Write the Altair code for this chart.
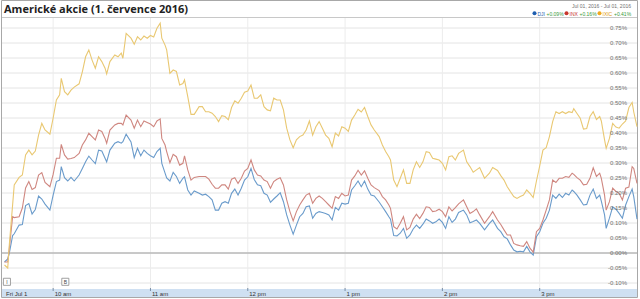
import altair as alt
import pandas as pd

# ---------------- data ----------------
title_text = "Americké akcie (1. července 2016)"
date_range_text = "Jul 01, 2016  -  Jul 01, 2016"

series_names = ["DJI", "INX", "IXIC"]
series_changes = ["+0.09%", "+0.16%", "+0.41%"]

# minutes after 9:30 am
minutes = [0,2,3,5,6,9,11,13,15,17,19,21,23,25,28,30,32,34,35,37,39,41,43,46,48,50,52,54,56,58,
           60,62,63,65,68,70,72,73,75,78,80,82,84,86,88,90,92,94,96,97,99,100,102,104,106,108,110,111,113,115,
           117,120,122,124,126,128,130,132,134,136,138,140,142,144,146,148,150,152,154,156,158,160,162,164,166,168,170,172,174,176,
           178,180,182,184,186,188,190,192,194,196,198,200,202,204,206,208,210,212,214,216,218,220,222,224,226,228,231,233,235,237,
           238,240,242,244,246,248,250,252,254,256,258,260,262,264,266,268,270,272,274,276,278,280,283,285,287,289,291,293,296,299,
           301,304,306,308,310,312,314,316,318,320,322,324,326,328,330,332,334,336,338,340,342,344,346,348,350,351,353,355,357,359,
           361,363,365,367,368,370,371,373,375,377,379,381,383,385,387,388,390]

dji = [-0.03,-0.02,0.0,0.058,0.064,0.093,0.095,0.158,0.165,0.13,
       0.145,0.19,0.18,0.163,0.143,0.193,0.238,0.243,0.288,0.251,
       0.24,0.252,0.24,0.26,0.282,0.304,0.323,0.31,0.298,0.343,
       0.34,0.316,0.304,0.343,0.366,0.371,0.366,0.371,0.396,0.37,
       0.318,0.349,0.324,0.343,0.332,0.324,0.318,0.338,0.349,0.299,
       0.266,0.25,0.24,0.269,0.255,0.232,0.249,0.254,0.21,0.193,
       0.207,0.199,0.193,0.196,0.188,0.177,0.143,0.143,0.166,0.171,
       0.166,0.199,0.213,0.193,0.216,0.243,0.254,0.282,0.245,0.227,
       0.224,0.199,0.193,0.169,0.18,0.19,0.201,0.171,0.127,0.093,
       0.063,0.093,0.121,0.132,0.154,0.157,0.116,0.132,0.138,0.135,
       0.132,0.127,0.11,0.152,0.143,0.166,0.163,0.166,0.21,0.224,
       0.24,0.221,0.24,0.213,0.193,0.19,0.17,0.154,0.138,0.121,
       0.113,0.058,0.057,0.066,0.082,0.049,0.06,0.08,0.093,0.082,
       0.096,0.113,0.107,0.099,0.104,0.113,0.102,0.082,0.121,0.102,
       0.113,0.135,0.143,0.127,0.101,0.105,0.11,0.099,0.077,0.099,
       0.11,0.082,0.071,0.054,0.047,0.027,0.01,0.004,0.006,0.004,
       0.022,0.004,-0.007,0.054,0.071,0.099,0.116,0.143,0.193,0.182,
       0.196,0.185,0.199,0.193,0.21,0.205,0.193,0.177,0.16,0.162,
       0.193,0.213,0.182,0.193,0.173,0.127,0.082,0.116,0.154,0.146,
       0.132,0.116,0.16,0.188,0.213,0.188,0.113]

inx = [-0.03,-0.03,0.017,0.121,0.118,0.121,0.15,0.217,0.238,0.212,
       0.218,0.26,0.268,0.235,0.221,0.262,0.316,0.316,0.362,0.327,
       0.313,0.315,0.318,0.332,0.36,0.377,0.399,0.388,0.377,0.41,
       0.405,0.382,0.366,0.41,0.427,0.432,0.432,0.427,0.46,0.443,
       0.416,0.443,0.421,0.44,0.435,0.43,0.421,0.44,0.447,0.382,
       0.36,0.338,0.301,0.329,0.321,0.293,0.299,0.324,0.277,0.243,
       0.252,0.255,0.255,0.255,0.246,0.229,0.216,0.216,0.227,0.227,
       0.213,0.246,0.251,0.232,0.249,0.273,0.282,0.31,0.277,0.26,
       0.257,0.243,0.238,0.216,0.238,0.246,0.251,0.227,0.177,0.138,
       0.107,0.138,0.16,0.177,0.193,0.199,0.166,0.182,0.19,0.182,
       0.171,0.16,0.149,0.188,0.182,0.199,0.19,0.193,0.243,0.257,
       0.276,0.26,0.274,0.249,0.227,0.218,0.208,0.188,0.177,0.16,
       0.149,0.088,0.08,0.099,0.121,0.077,0.085,0.113,0.129,0.115,
       0.132,0.154,0.152,0.138,0.14,0.146,0.138,0.121,0.154,0.14,
       0.151,0.164,0.177,0.154,0.132,0.138,0.147,0.127,0.099,0.121,
       0.138,0.11,0.095,0.077,0.06,0.06,0.032,0.027,0.024,0.022,
       0.038,0.016,0.003,0.071,0.082,0.11,0.143,0.177,0.243,0.235,
       0.249,0.249,0.255,0.252,0.266,0.262,0.251,0.243,0.227,0.229,
       0.249,0.284,0.255,0.266,0.249,0.193,0.143,0.171,0.216,0.205,
       0.199,0.177,0.216,0.22,0.288,0.282,0.232]

ixic = [-0.04,-0.05,0.03,0.16,0.227,0.252,0.26,0.327,0.343,0.327,
        0.34,0.393,0.432,0.41,0.396,0.45,0.51,0.527,0.582,0.538,
        0.527,0.543,0.553,0.564,0.604,0.654,0.677,0.643,0.616,0.654,
        0.638,0.616,0.597,0.638,0.66,0.654,0.666,0.649,0.732,0.716,
        0.696,0.721,0.71,0.723,0.716,0.725,0.72,0.749,0.766,0.716,
        0.693,0.677,0.599,0.61,0.605,0.56,0.565,0.577,0.521,0.462,
        0.462,0.488,0.488,0.471,0.471,0.466,0.455,0.438,0.458,0.455,
        0.444,0.485,0.507,0.499,0.516,0.536,0.54,0.56,0.516,0.516,
        0.527,0.488,0.477,0.474,0.516,0.51,0.51,0.477,0.416,0.377,
        0.351,0.377,0.388,0.393,0.41,0.44,0.393,0.421,0.438,0.416,
        0.393,0.382,0.354,0.4,0.39,0.421,0.416,0.405,0.443,0.46,
        0.479,0.47,0.485,0.455,0.427,0.41,0.388,0.36,0.338,0.321,
        0.31,0.243,0.221,0.249,0.277,0.232,0.232,0.277,0.304,0.285,
        0.304,0.338,0.335,0.316,0.313,0.31,0.299,0.277,0.321,0.324,
        0.31,0.332,0.343,0.304,0.288,0.269,0.277,0.285,0.249,0.266,
        0.285,0.275,0.258,0.243,0.221,0.204,0.188,0.182,0.188,0.193,
        0.21,0.199,0.185,0.24,0.29,0.343,0.351,0.388,0.438,0.471,
        0.465,0.471,0.465,0.471,0.468,0.481,0.465,0.449,0.413,0.415,
        0.455,0.471,0.445,0.455,0.44,0.377,0.349,0.382,0.432,0.42,
        0.416,0.43,0.44,0.485,0.502,0.47,0.421]

y_grid_values = [-0.10,-0.05,0.00,0.05,0.10,0.15,0.20,0.25,0.30,0.35,0.40,0.45,0.50,0.55,0.60,0.65,0.70,0.75]
y_grid_labels = ["-0.10%","-0.05%","0.00%","0.05%","0.10%","0.15%","0.20%","0.25%","0.30%","0.35%",
                 "0.40%","0.45%","0.50%","0.55%","0.60%","0.65%","0.70%","0.75%"]
zero_level = [0.0]
hour_ticks = [30, 90, 150, 210, 270, 330]
x_label_minutes = [0, 30, 90, 150, 210, 270, 330]
x_label_texts = ["Fri Jul 1", "10 am", "11 am", "12 pm", "1 pm", "2 pm", "3 pm"]
flag_minutes = [1.5, 37.5]
flag_texts = ["I", "B"]
flag_level = -0.096

assert len(minutes) == len(dji) == len(inx) == len(ixic)

# ---------------- styling ----------------
line_colors = ["#6a9bcb", "#cf8780", "#e9c872"]
dot_colors = ["#1f5fb0", "#c8372d", "#f0a81c"]
name_colors = ["#1f5fb0", "#c8372d", "#e09a10"]
change_color = "#3a9a3a"
FONT = "Liberation Sans"

xs = alt.Scale(domain=[0, 390], range=[4.5, 637])
ys = alt.Scale(domain=[-0.10, 0.75], range=[283, 28])

rows = []
for name, vals in zip(series_names, [dji, inx, ixic]):
    for m, v in zip(minutes, vals):
        rows.append({"minute": m, "value": v, "series": name})
df = pd.DataFrame(rows)

one = pd.DataFrame({"k": [0]})

# frame and background pieces
frame = alt.Chart(one).mark_rect(fill="white", stroke="#a8a8a8", strokeWidth=1).encode(
    x=alt.value(1.5), x2=alt.value(637.5), y=alt.value(0.5), y2=alt.value(297.5))
band = alt.Chart(one).mark_rect(fill="#cfe0f2").encode(
    x=alt.value(2), x2=alt.value(637), y=alt.value(289), y2=alt.value(297))
sep = alt.Chart(one).mark_rule(color="#c8c8c8", strokeWidth=1).encode(
    x=alt.value(2), x2=alt.value(637), y=alt.value(17.5))

grid_df = pd.DataFrame({"value": y_grid_values, "label": y_grid_labels})
hgrid = alt.Chart(grid_df).mark_rule(color="#e4e4e4", strokeWidth=1).encode(
    y=alt.Y("value:Q", scale=ys, axis=None), x=alt.value(2), x2=alt.value(637))
zero = alt.Chart(pd.DataFrame({"value": zero_level})).mark_rule(color="#a0a0a0", strokeWidth=1).encode(
    y=alt.Y("value:Q", scale=ys, axis=None), x=alt.value(2), x2=alt.value(637))
vgrid = alt.Chart(pd.DataFrame({"minute": hour_ticks})).mark_rule(color="#ececec", strokeWidth=1).encode(
    x=alt.X("minute:Q", scale=xs, axis=None), y=alt.value(18), y2=alt.value(289))
xticks = alt.Chart(pd.DataFrame({"minute": hour_ticks})).mark_rule(color="#7a8ea6", strokeWidth=1).encode(
    x=alt.X("minute:Q", scale=xs, axis=None), y=alt.value(288), y2=alt.value(291))

lines = alt.Chart(df).mark_line(strokeWidth=1.1).encode(
    x=alt.X("minute:Q", scale=xs, axis=None),
    y=alt.Y("value:Q", scale=ys, axis=None),
    color=alt.Color("series:N", scale=alt.Scale(domain=series_names, range=line_colors), legend=None),
    detail="series:N",
)

ylabels = alt.Chart(grid_df).mark_text(align="right", baseline="middle", fontSize=6, font=FONT,
                                       color="#707070").encode(
    y=alt.Y("value:Q", scale=ys, axis=None), x=alt.value(627), text="label:N")

xlabels = alt.Chart(pd.DataFrame({"minute": x_label_minutes, "label": x_label_texts})).mark_text(
    align="left", baseline="middle", fontSize=6, font=FONT, color="#333333", dx=1.5).encode(
    x=alt.X("minute:Q", scale=xs, axis=None), y=alt.value(293.5), text="label:N")

flag_df = pd.DataFrame({"minute": flag_minutes, "value": [flag_level] * len(flag_minutes), "label": flag_texts})
flag_box = alt.Chart(flag_df).mark_square(size=50, fill="white", stroke="#8a8a8a", strokeWidth=0.8,
                                          opacity=1).encode(
    x=alt.X("minute:Q", scale=xs, axis=None), y=alt.Y("value:Q", scale=ys, axis=None))
flag_txt = alt.Chart(flag_df).mark_text(fontSize=5, font=FONT, color="#444444", baseline="middle").encode(
    x=alt.X("minute:Q", scale=xs, axis=None), y=alt.Y("value:Q", scale=ys, axis=None), text="label:N")

title = alt.Chart(pd.DataFrame({"t": [title_text]})).mark_text(
    align="left", baseline="alphabetic", fontSize=11, font="Open Sans", fontWeight="bold",
    color="#222222").encode(x=alt.value(4), y=alt.value(13.3), text="t:N")

date_txt = alt.Chart(pd.DataFrame({"t": [date_range_text]})).mark_text(
    align="right", baseline="middle", fontSize=5, font=FONT, color="#707070").encode(
    x=alt.value(631), y=alt.value(6), text="t:N")

# legend pieces (layout positions)
legend_dot_x = [534.5, 566.5, 599.5]
legend_change_x = [546.5, 579.5, 614]
legend_layers = []
for i, name in enumerate(series_names):
    dx0 = legend_dot_x[i]
    legend_layers.append(alt.Chart(one).mark_circle(size=16, color=dot_colors[i], opacity=1).encode(
        x=alt.value(dx0), y=alt.value(13.3)))
    legend_layers.append(alt.Chart(pd.DataFrame({"t": [name]})).mark_text(
        align="left", baseline="middle", fontSize=5, font=FONT, color=name_colors[i]).encode(
        x=alt.value(dx0 + 3), y=alt.value(13.5), text="t:N"))
    legend_layers.append(alt.Chart(pd.DataFrame({"t": [series_changes[i]]})).mark_text(
        align="left", baseline="middle", fontSize=5, font=FONT, color=change_color).encode(
        x=alt.value(legend_change_x[i]), y=alt.value(13.5), text="t:N"))

chart = alt.layer(
    frame, band, sep, hgrid, vgrid, zero, xticks, lines, ylabels, xlabels, flag_box, flag_txt,
    title, date_txt, *legend_layers
).properties(
    width=640, height=299, autosize=alt.AutoSizeParams(type="none"), padding=0,
    background="white"
).configure_view(stroke=None)

chart.save("out.html", embed_options={"renderer": "svg", "actions": False})
